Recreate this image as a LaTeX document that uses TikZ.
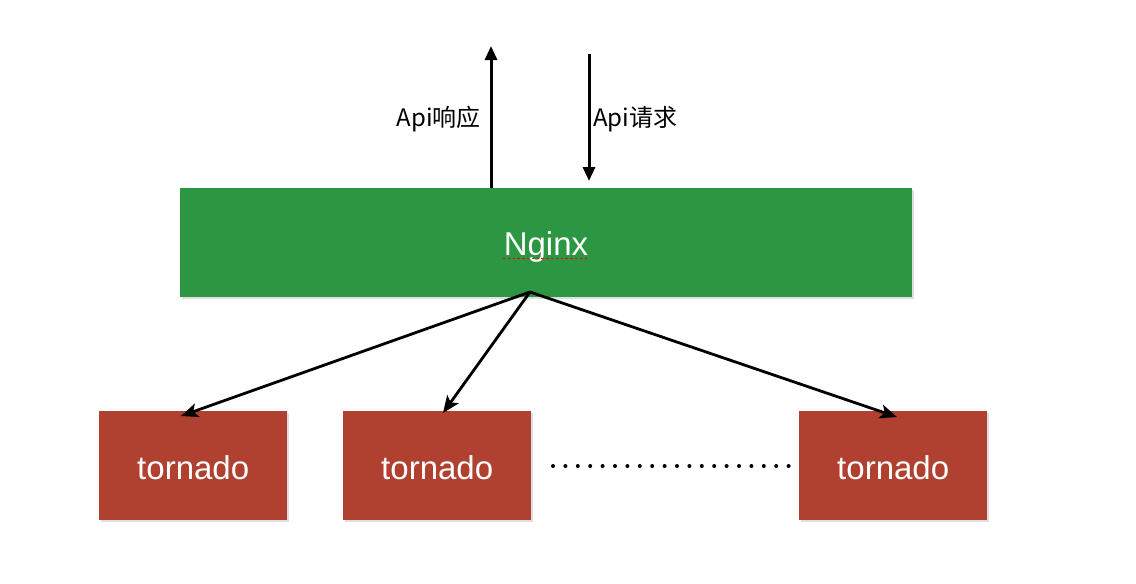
\documentclass[tikz,border=0pt]{standalone}
\usepackage{fontspec}
\setmainfont{Liberation Sans}
\newfontfamily\cjk{Noto Sans CJK SC}
\usetikzlibrary{arrows.meta,shadows}
\definecolor{ngreen}{RGB}{44,150,66}
\definecolor{tred}{RGB}{176,64,48}
\tikzset{
  box/.style={draw=none, inner sep=0pt, anchor=north west,
    drop shadow={opacity=0.25, shadow xshift=1.5pt, shadow yshift=-2pt}},
  nginxbox/.style={box, fill=ngreen, minimum width=732pt, minimum height=109pt},
  tbox/.style={box, fill=tred, minimum width=188pt, minimum height=109pt},
  boxtext/.style={text=white, inner sep=0pt, font=\fontsize{33}{40}\selectfont},
  vline/.style={line width=3pt, -{Triangle[length=14pt,width=12pt]}},
  conn/.style={line width=2.8pt, -{Stealth[length=17pt,width=14pt,inset=4pt]}},
  lbl/.style={font=\cjk\fontsize{24}{28}\selectfont, inner sep=0pt}
}
\begin{document}
\begin{tikzpicture}[x=1pt,y=-1pt]
\useasboundingbox (0,0) rectangle (1136,584);
\node[nginxbox] (nginx) at (180,188) {};
\node[boxtext, anchor=base] (ntext) at (546,255) {Nginx};
\draw[red, line width=1.8pt, dash pattern=on 2.4pt off 2.4pt] (503,258.5) -- (589,258.5);
\node[tbox] (t1) at (99,411) {};
\node[tbox] (t2) at (343,411) {};
\node[tbox] (t3) at (799,411) {};
\node[boxtext] (l1) at ([yshift=-2pt]t1.center) {tornado};
\node[boxtext] (l2) at ([yshift=-2pt]t2.center) {tornado};
\node[boxtext] (l3) at ([yshift=-2pt]t3.center) {tornado};
\coordinate (src) at (530,292);
\coordinate (e1) at (181,416);
\coordinate (e2) at (443,413);
\coordinate (e3) at (897,417);
\draw[conn] (src) -- (e1);
\draw[conn] (src) -- (e2);
\draw[conn] (src) -- (e3);
\coordinate (upend) at (491,46);
\coordinate (dnstart) at (589,54);
\coordinate (dnend) at (589,181);
\draw[vline] (nginx.north -| upend) -- (upend);
\draw[vline] (dnstart) -- (dnend);
\node[lbl, anchor=east] (resp) at (481,119) {Api响应};
\node[lbl, anchor=west] (req) at (593,119) {Api请求};
\foreach \k in {0,...,19} \fill (553+12.4*\k,466) circle (2pt);
\end{tikzpicture}
\end{document}
